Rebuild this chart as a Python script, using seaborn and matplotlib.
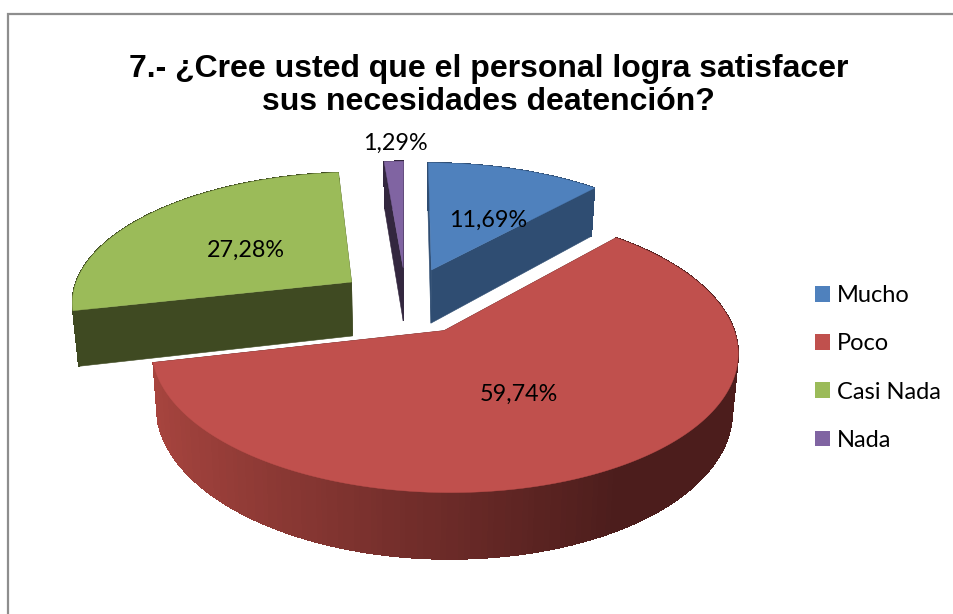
#%%
import numpy as np
import seaborn as sns
from matplotlib import pyplot as plt
from matplotlib.patches import Patch

#%%
categories = ["Mucho", "Poco", "Casi Nada", "Nada"]
values = [11.69, 59.74, 27.28, 1.29]
value_labels = ["11,69%", "59,74%", "27,28%", "1,29%"]
title_text = "7.- ¿Cree usted que el personal logra satisfacer\nsus necesidades deatención?"

top_colors = ["#4F81BD", "#C0504D", "#9BBB59", "#8064A2"]
cut_colors = ["#2F4D72", "#4C1D1C", "#3F4A22", "#33273F"]
rim_light = ["#2F4D72", "#A8453F", "#3F4A22", "#33273F"]
explode = [0.26, 0.26, 0.245, 0.26]

# layout of the projected pie, in pixels of the 954x614 picture
CENTER_X, CENTER_Y = 406, 300.5
RADIUS_X, RADIUS_Y = 281, 130
PERSPECTIVE = 0.14
DEPTH = 55
TAPER = 0.018
label_xy = [(488, 220), (519, 394), (246, 250), (395, 143)]

#%%
def project(x, y, z=0.0):
    scale = 1 / (1 + PERSPECTIVE * y)
    return CENTER_X + RADIUS_X * x * scale * (1 - TAPER * z), CENTER_Y - RADIUS_Y * y * scale + DEPTH * z * scale

#%%
def draw_slice(ax, start, end, ind):
    mid = (start + end) / 2
    off_x, off_y = explode[ind] * np.sin(mid), explode[ind] * np.cos(mid)
    theta = np.linspace(start, end, max(int(np.degrees(end - start)), 6))
    rim_x = off_x + np.sin(theta)
    rim_y = off_y + np.cos(theta)

    # cut faces
    for ang in (start, end):
        px = [off_x, off_x + np.sin(ang), off_x + np.sin(ang), off_x]
        py = [off_y, off_y + np.cos(ang), off_y + np.cos(ang), off_y]
        pz = [0, 0, 1, 1]
        sx, sy = project(np.array(px), np.array(py), np.array(pz))
        ax.fill(sx, sy, color=cut_colors[ind], lw=0.4)

    # outer wall, in strips so the shade can run from left to right
    shades = sns.blend_palette([rim_light[ind], cut_colors[ind]], 64)
    for k in range(len(theta) - 1):
        px = np.array([rim_x[k], rim_x[k + 1], rim_x[k + 1], rim_x[k]])
        py = np.array([rim_y[k], rim_y[k + 1], rim_y[k + 1], rim_y[k]])
        sx, sy = project(px, py, np.array([0, 0, 1, 1]))
        shade = np.clip((np.sin(theta[k]) + 1) / 1.5, 0, 1)
        ax.fill(sx, sy, color=shades[int(shade * 63)], lw=0.5, antialiased=False)

    # top
    sx, sy = project(np.r_[off_x, rim_x], np.r_[off_y, rim_y])
    ax.fill(sx, sy, color=top_colors[ind], lw=0.3)

#%%
sns.set_theme(style="white")
plt.rcParams["font.family"] = ["Lato", "DejaVu Sans"]

fig = plt.figure(figsize=(9.54, 6.14), dpi=100, facecolor="white")
ax = fig.add_axes([0, 0, 1, 1])
ax.set_xlim(0, 954)
ax.set_ylim(614, 0)
ax.set_axis_off()

# chart frame, only top and left are inside the picture
ax.plot([8, 8, 954], [614, 14, 14], color="#8E8E8E", lw=1.6, solid_joinstyle="miter")

edges = np.radians(np.r_[0, np.cumsum(values)] / sum(values) * 360)
for ind in [3, 2, 0, 1]:
    draw_slice(ax, edges[ind], edges[ind + 1], ind)

for text, (x, y) in zip(value_labels, label_xy):
    ax.text(x, y, text, ha="center", va="center", fontsize=16.8, color="black")

ax.text(488.5, 85.5, title_text, ha="center", va="center", fontsize=23, fontweight="bold",
        family="Liberation Sans", color="black", linespacing=1.14)

handles = [Patch(facecolor=c, edgecolor="none") for c in top_colors]
ax.legend(handles, categories, loc="upper left", bbox_to_anchor=(815, 285), bbox_transform=ax.transData,
          frameon=False, fontsize=17, handlelength=0.64, handleheight=0.64, handletextpad=0.3,
          borderpad=0, borderaxespad=0, labelspacing=1.155, labelcolor="black")

plt.savefig("out.png", format="png", dpi=100)
plt.close()
